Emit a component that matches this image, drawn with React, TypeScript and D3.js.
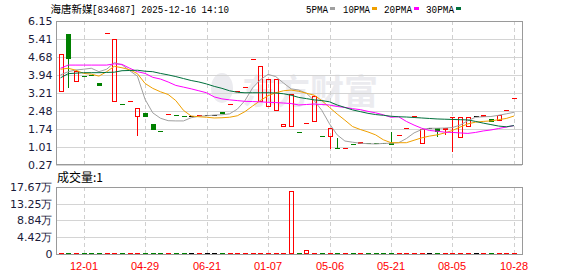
import React from 'react';
import * as d3 from 'd3';

const opens = [3.24,5.62,3.65,3.90,3.93,3.61,5.64,2.83,2.76,2.87,2.24,2.38,1.93,1.66,2.33,2.31,2.28,2.27,2.31,2.32,2.32,2.43,2.75,3.27,3.44,4.58,2.83,2.63,2.48,1.83,1.81,1.61,1.96,2.01,1.45,1.43,0.97,0.95,1.13,1.13,1.15,1.16,1.15,1.15,1.47,1.77,2.25,1.13,1.78,1.78,1.70,2.23,1.36,1.81,2.26,2.22,2.15,2.07,2.51,3.00];
const closes = [4.80,4.61,4.12,3.89,3.92,3.51,5.65,5.40,2.75,2.88,2.58,2.23,1.70,1.65,2.34,2.30,2.27,2.27,2.32,2.32,2.32,2.37,2.76,3.28,3.45,4.59,4.30,3.77,3.77,1.93,3.17,1.60,1.97,3.10,1.44,1.78,0.96,0.96,1.12,1.22,1.14,1.15,1.14,1.10,1.48,1.78,2.26,1.75,1.78,1.62,1.78,2.24,2.24,2.24,2.26,2.32,2.04,2.32,2.52,3.01];
const highs = [4.80,5.62,4.12,3.90,3.93,3.61,5.65,5.40,2.76,2.88,2.58,2.38,1.93,1.66,2.34,2.31,2.28,2.27,2.32,2.32,2.32,2.43,2.76,3.28,3.45,4.59,4.30,3.77,3.77,1.93,3.17,1.61,1.97,3.10,1.45,1.78,1.37,0.96,1.13,1.22,1.15,1.16,1.15,1.62,1.48,1.78,2.26,1.75,1.78,1.78,1.78,2.24,2.24,2.24,2.26,2.32,2.15,2.32,2.52,3.01];
const lows = [3.24,3.40,3.65,3.89,3.92,3.51,5.64,2.83,2.75,2.87,1.47,2.23,1.70,1.65,2.33,2.30,2.27,2.27,2.31,2.32,2.32,2.37,2.75,3.27,3.44,4.58,2.83,2.63,2.48,1.83,1.81,1.60,1.96,2.01,1.44,0.92,0.96,0.95,1.12,1.13,1.14,1.15,1.14,1.10,1.47,1.77,2.25,1.13,1.78,1.40,1.50,0.79,1.36,1.81,2.26,2.22,2.04,2.07,2.51,3.00];
const volumes = [600,800,400,200,100,300,200,700,300,200,500,400,300,200,100,200,100,100,200,100,100,300,200,200,300,400,600,500,400,300,166000,500,9800,700,300,400,200,100,200,300,100,100,100,300,200,200,300,400,100,300,200,500,400,300,100,200,300,300,200,300];

const ma5 = [3.95,4.08,4.15,4.18,4.22,4.08,4.18,4.45,4.36,4.12,3.90,2.95,2.40,2.18,2.08,2.07,2.07,2.20,2.26,2.28,2.31,2.32,2.36,2.55,2.90,3.42,3.75,3.97,3.88,3.62,3.38,3.33,3.20,2.90,2.50,1.95,1.50,1.25,1.20,1.16,1.14,1.13,1.15,1.16,1.18,1.35,1.58,1.72,1.77,1.77,1.78,1.80,1.90,2.08,2.22,2.24,2.25,2.30,2.36,2.42];
const ma10 = [4.18,4.22,4.14,4.01,3.98,3.90,4.08,4.30,4.24,4.16,4.00,3.60,3.40,3.26,3.15,2.90,2.50,2.27,2.24,2.22,2.19,2.20,2.22,2.28,2.45,2.68,2.90,3.10,3.22,3.30,3.33,3.28,3.20,3.12,2.90,2.62,2.35,2.10,1.84,1.72,1.62,1.50,1.30,1.18,1.18,1.18,1.28,1.38,1.45,1.50,1.58,1.68,1.82,1.95,2.02,2.05,2.07,2.12,2.17,2.27];
const ma20 = [4.22,4.35,4.35,4.35,4.35,4.35,4.35,4.40,4.38,4.22,4.08,4.01,3.85,3.78,3.66,3.52,3.45,3.38,3.30,3.22,3.05,2.97,2.93,2.90,2.87,2.86,2.85,2.83,2.82,2.80,2.78,2.72,2.74,2.76,2.74,2.72,2.66,2.62,2.57,2.53,2.46,2.40,2.32,2.22,2.24,2.05,1.90,1.77,1.68,1.65,1.61,1.60,1.58,1.56,1.60,1.66,1.70,1.76,1.82,1.88];
const ma30 = [3.83,4.00,4.02,4.04,4.04,4.04,4.05,4.06,4.12,4.13,4.14,4.10,4.08,4.01,3.95,3.88,3.80,3.72,3.66,3.58,3.48,3.40,3.30,3.24,3.22,3.22,3.22,3.22,3.21,3.18,3.12,3.03,2.98,2.93,2.90,2.85,2.72,2.62,2.52,2.45,2.38,2.33,2.30,2.26,2.24,2.23,2.21,2.19,2.17,2.15,2.14,2.13,2.12,2.11,2.05,1.98,1.92,1.86,1.83,1.88];

const priceTickLabels = ["6.15","5.41","4.68","3.94","3.21","2.48","1.74","1.01","0.27"];
const volTickValues = [0, 44200, 88400, 132500, 176700];
const volTickLabels = ["0","4.42万","8.84万","13.25万","17.67万"];
const xTickIndex = [3,11,19,27,35,43,51,59];
const xTickLabels = ["12-01","04-29","06-21","01-07","05-06","05-21","08-05","10-28"];
const stockName = "海唐新媒";
const stockInfo = "[834687] 2025-12-16 14:10";
const legendNames = ["5PMA","10PMA","20PMA","30PMA"];
const volumeTitle = "成交量:1";

const RED = "#ff0000";
const GREEN = "#008000";
const maColors = ["#a0a0a0","#f0a000","#ff00ff","#00703c"];

export default function App() {
  const L = 56, R = 522, T = 21, B = 165;
  const VT = 187, VB = 254;
  const n = closes.length;
  const x = d3.scaleBand<number>().domain(d3.range(n)).range([56.7, 517.8]).padding(0);
  const cx = (i: number) => (x(i) as number) + x.bandwidth() / 2;
  const y = d3.scaleLinear().domain([0.27, 6.15]).range([B, T]);
  const yv = d3.scaleLinear().domain([0, 176700]).range([VB, VT]);
  const mas = [ma5, ma10, ma20, ma30];
  const line = d3.line<number>().x((_, i) => cx(i)).y(d => y(d));
  const labelFont = "'DejaVu Sans', Verdana, sans-serif";
  const cjk = "'Noto Sans CJK SC', sans-serif";

  const colorOf = (i: number) => closes[i] > opens[i] ? RED : closes[i] < opens[i] ? GREEN : "#000000";

  const candles = d3.range(n).map(i => {
    const c = Math.round(cx(i));
    const col = colorOf(i);
    const up = closes[i] > opens[i];
    const yTop = Math.round(y(Math.max(opens[i], closes[i])));
    const yBot = Math.round(y(Math.min(opens[i], closes[i])));
    const yH = Math.round(y(highs[i]));
    const yLo = Math.round(y(lows[i]));
    const els: any[] = [];
    if (yH < yTop) els.push(<line key="h" x1={c + 0.5} x2={c + 0.5} y1={yH} y2={yTop} stroke={col} />);
    if (yLo > yBot) els.push(<line key="l" x1={c + 0.5} x2={c + 0.5} y1={yBot} y2={yLo} stroke={col} />);
    if (yBot - yTop < 2) {
      els.push(<line key="b" x1={c - 2} x2={c + 3} y1={yTop + 0.5} y2={yTop + 0.5} stroke={col} />);
    } else if (up) {
      els.push(<rect key="b" x={c - 1.5} y={yTop + 0.5} width={4} height={yBot - yTop - 1} fill="none" stroke={col} />);
    } else {
      els.push(<rect key="b" x={c - 2} y={yTop} width={5} height={yBot - yTop} fill={col} />);
    }
    return <g key={i}>{els}</g>;
  });

  const volBars = d3.range(n).map(i => {
    const c = Math.round(cx(i));
    const col = colorOf(i);
    const up = closes[i] > opens[i];
    const yt = Math.round(yv(volumes[i]));
    if (VB - yt < 2) {
      return <line key={i} x1={c - 2} x2={c + 3} y1={VB - 0.5} y2={VB - 0.5} stroke={col} />;
    }
    return up
      ? <rect key={i} x={c - 1.5} y={yt + 0.5} width={4} height={VB - yt - 1} fill="none" stroke={col} />
      : <rect key={i} x={c - 2} y={yt} width={5} height={VB - yt} fill={col} />;
  });

  const legendX = [306, 343, 384, 426];
  const legendW = [22, 27, 28, 28];

  return (
    <svg width={578} height={276} style={{ position: 'absolute', left: 0, top: 0, background: '#fff' }}>
      <rect x={0} y={0} width={578} height={276} fill="#fff" />
      {/* title */}
      <text x={50.5} y={13} fontFamily={cjk} fontSize={10.5} fill="#000">{stockName}</text>
      <text x={92} y={13} fontFamily="'Liberation Mono', monospace" fontSize={11} fill="#000" textLength={137} lengthAdjust="spacingAndGlyphs">{stockInfo}</text>
      {legendNames.map((nm, k) => (
        <g key={nm}>
          <text x={legendX[k]} y={12.5} fontFamily="'Liberation Mono', monospace" fontSize={11} fill="#000" textLength={legendW[k]} lengthAdjust="spacingAndGlyphs">{nm}</text>
          <rect x={legendX[k] + legendW[k] + 2} y={7} width={5} height={3} fill={maColors[k]} />
        </g>
      ))}
      {/* watermark */}
      <g fill="#ebebef">
        <ellipse cx={222} cy={88} rx={11} ry={15} />
        <text x={310} y={104} textAnchor="middle" fontFamily={cjk} fontWeight="bold" fontSize={34}>东方财富</text>
      </g>
      {/* main grid */}
      {priceTickLabels.map(t => {
        const yy = Math.round(y(parseFloat(t))) + 0.5;
        return <g key={t}>
          <line x1={L} x2={R} y1={yy} y2={yy} stroke="#d4d4d4" />
          <text x={52.5} y={yy} dy="0.35em" textAnchor="end" fontFamily={labelFont} fontSize={11} fill="#1a1a3a">{t}</text>
        </g>;
      })}
      {xTickIndex.map(i => {
        const xx = Math.round(cx(i)) + 0.5;
        return <g key={i}>
          <line x1={xx} x2={xx} y1={T} y2={B} stroke="#d0d0d0" strokeDasharray="4,3" />
          <line x1={xx} x2={xx} y1={VT} y2={VB} stroke="#d0d0d0" strokeDasharray="4,3" />
        </g>;
      })}
      <rect x={L + 0.5} y={T + 0.5} width={R - L} height={B - T - 1} fill="none" stroke="#9a9a9a" />
      {candles}
      {mas.map((m, k) => <path key={k} d={line(m) as string} fill="none" stroke={maColors[k]} strokeWidth={1} />)}
      {/* volume */}
      <text x={57} y={182} fontFamily={cjk} fontSize={12} fill="#000">{volumeTitle}</text>
      {volTickValues.map((v, k) => {
        const yy = Math.round(yv(v)) + 0.5;
        return <g key={v}>
          {k > 0 && <line x1={L} x2={R} y1={yy} y2={yy} stroke="#d4d4d4" />}
          <text x={52.5} y={yy} dy="0.35em" textAnchor="end" fontFamily={labelFont} fontSize={11} fill="#1a1a3a">{volTickLabels[k]}</text>
        </g>;
      })}
      {volBars}
      <rect x={L + 0.5} y={VT + 0.5} width={R - L} height={VB - VT} fill="none" stroke="#9a9a9a" />
      {xTickIndex.map((i, k) => (
        <text key={i} x={Math.round(cx(i))} y={270} textAnchor="middle" fontFamily="'Liberation Sans', Arial, sans-serif" fontSize={11} fill={RED}>{xTickLabels[k]}</text>
      ))}
    </svg>
  );
}
